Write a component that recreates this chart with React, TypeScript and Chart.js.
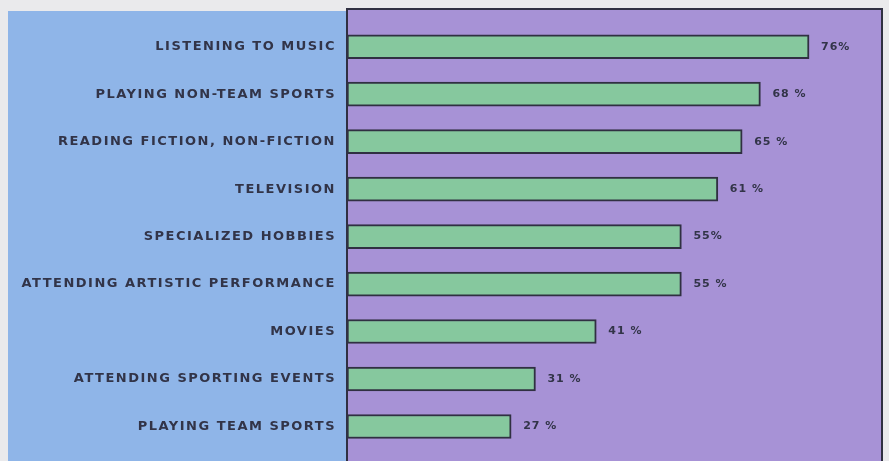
import React, { useEffect, useRef } from "react";
import { Chart, registerables } from "chart.js";

Chart.register(...registerables);

const categories = [
  "LISTENING TO MUSIC",
  "PLAYING NON-TEAM SPORTS",
  "READING FICTION, NON-FICTION",
  "TELEVISION",
  "SPECIALIZED HOBBIES",
  "ATTENDING ARTISTIC PERFORMANCE",
  "MOVIES",
  "ATTENDING SPORTING EVENTS",
  "PLAYING TEAM SPORTS",
];
const values = [76, 68, 65, 61, 55, 55, 41, 31, 27];
const valueLabels = ["76%", "68 %", "65 %", "61 %", "55%", "55 %", "41 %", "31 %", "27 %"];

const PAGE_BG = "rgb(234,234,236)";
const BLUE = "rgb(143,181,232)";
const PURPLE = "rgb(167,146,214)";
const GREEN = "rgb(134,200,158)";
const DARK = "rgb(48,48,66)";
const TEXT = "rgb(50,52,72)";

const panelsPlugin = {
  id: "panels",
  beforeDraw(chart: any) {
    const { ctx, chartArea, width, height } = chart;
    ctx.save();
    ctx.fillStyle = PAGE_BG;
    ctx.fillRect(0, 0, width, height);
    ctx.fillStyle = BLUE;
    ctx.fillRect(8, 11, chartArea.left - 8, height - 11);
    ctx.fillStyle = PURPLE;
    ctx.fillRect(chartArea.left, 9, chartArea.right - chartArea.left, height - 9);
    ctx.strokeStyle = DARK;
    ctx.lineWidth = 2;
    ctx.beginPath();
    ctx.moveTo(chartArea.left, height + 2);
    ctx.lineTo(chartArea.left, 9);
    ctx.lineTo(chartArea.right, 9);
    ctx.lineTo(chartArea.right, height + 2);
    ctx.stroke();
    ctx.restore();
    (ctx as any).letterSpacing = "1.5px";
  },
};

const valueLabelPlugin = {
  id: "valueLabels",
  afterDatasetsDraw(chart: any) {
    const { ctx } = chart;
    const meta = chart.getDatasetMeta(0);
    ctx.save();
    (ctx as any).letterSpacing = "1px";
    ctx.font = "bold 11px 'DejaVu Sans'";
    ctx.fillStyle = TEXT;
    ctx.textAlign = "left";
    ctx.textBaseline = "middle";
    meta.data.forEach((el: any, i: number) => {
      ctx.fillText(valueLabels[i], el.x + 12, el.y);
    });
    ctx.restore();
  },
};

export default function App() {
  const ref = useRef<HTMLCanvasElement>(null);
  useEffect(() => {
    document.body.style.margin = "0";
    document.body.style.background = PAGE_BG;
    const chart = new Chart(ref.current!, {
      type: "bar",
      data: {
        labels: categories,
        datasets: [
          {
            data: values,
            backgroundColor: GREEN,
            borderColor: DARK,
            borderWidth: 2,
            borderSkipped: false,
            barThickness: 24,
          },
        ],
      },
      options: {
        indexAxis: "y",
        animation: false,
        responsive: false,
        maintainAspectRatio: false,
        layout: { padding: { left: 0, right: 7, top: 23, bottom: 6 } },
        plugins: {
          legend: { display: false },
          tooltip: { enabled: false },
          title: { display: false },
        },
        scales: {
          x: {
            display: false,
            min: 0,
            max: 88,
          },
          y: {
            grid: { display: false },
            border: { display: false },
            afterFit(scale: any) {
              scale.width = 347;
            },
            ticks: {
              padding: 3,
              color: TEXT,
              font: { family: "'DejaVu Sans'", size: 13, weight: "bold" },
            },
          },
        },
      },
      plugins: [panelsPlugin, valueLabelPlugin],
    } as any);
    return () => chart.destroy();
  }, []);
  return (
    <div style={{ position: "absolute", left: 0, top: 0, width: 889, height: 461 }}>
      <canvas ref={ref} width={889} height={461} style={{ display: "block" }} />
    </div>
  );
}
